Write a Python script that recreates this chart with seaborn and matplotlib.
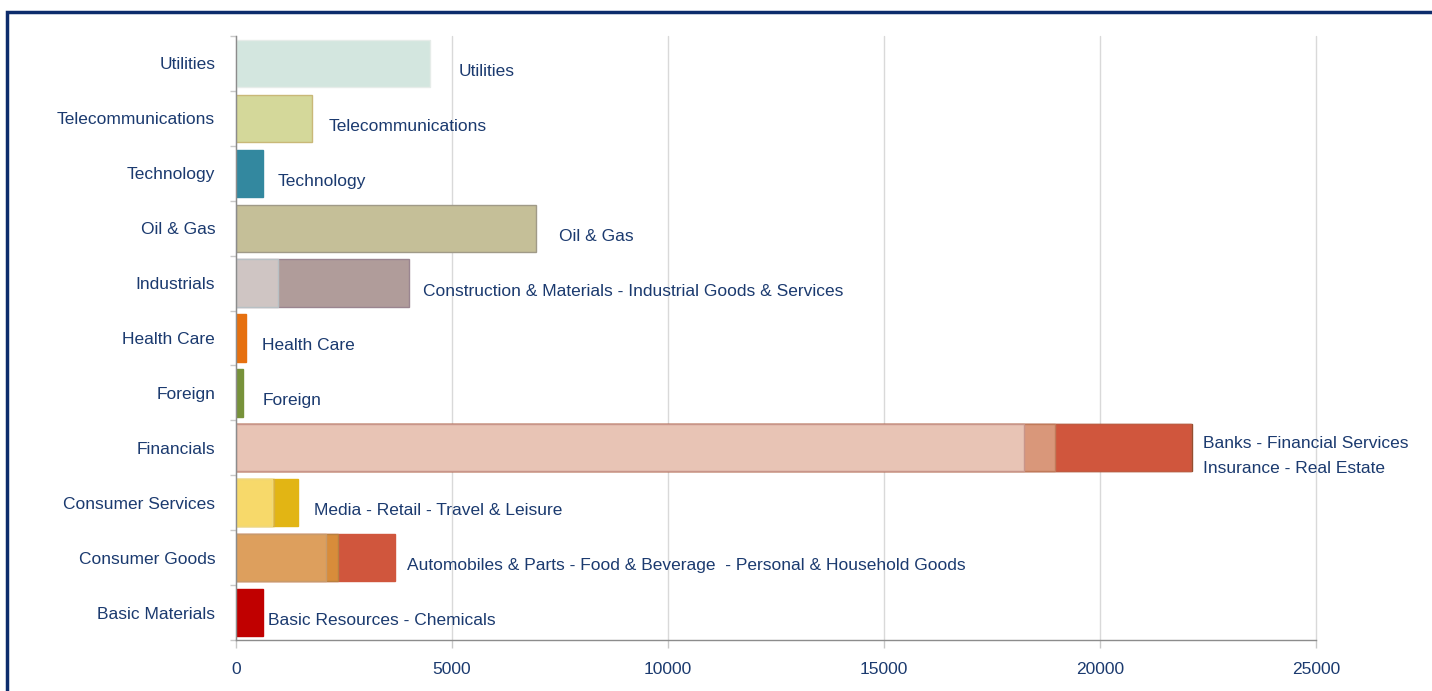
import matplotlib
matplotlib.use("Agg")
import matplotlib.pyplot as plt
import seaborn as sns
import numpy as np
import pandas as pd
from matplotlib.patches import Rectangle
from matplotlib.ticker import MultipleLocator

categories = ["Utilities", "Telecommunications", "Technology", "Oil & Gas", "Industrials",
              "Health Care", "Foreign", "Financials", "Consumer Services", "Consumer Goods",
              "Basic Materials"]

# sub-sector values, stacked left to right within each sector
segments = [
    [4490],
    [1760],
    [625],
    [6940],
    [980, 3025],
    [230],
    [165],
    [18240, 720, 3150, 30],
    [830, 60, 540],
    [2090, 265, 1330],
    [625],
]

bar_labels = [
    "Utilities",
    "Telecommunications",
    "Technology",
    "Oil & Gas",
    "Construction & Materials - Industrial Goods & Services",
    "Health Care",
    "Foreign",
    "Banks - Financial Services\nInsurance - Real Estate",
    "Media - Retail - Travel & Leisure",
    "Automobiles & Parts - Food & Beverage  - Personal & Household Goods",
    "Basic Resources - Chemicals",
]

segment_colors = [
    ["#d3e6df"],
    ["#d4d89a"],
    ["#33889f"],
    ["#c5bf98"],
    ["#cfc5c3", "#b09c9a"],
    ["#e6700f"],
    ["#77923a"],
    ["#e8c4b5", "#d9977a", "#d0563d", "#8b4a2a"],
    ["#f7d96a", "#e6c24a", "#e2b514"],
    ["#dd9f5d", "#d88c3a", "#d0563d"],
    ["#c00000"],
]
edge_colors = [
    ["#e6ece9"],
    ["#c9b878"],
    ["#33889f"],
    ["#a09a88"],
    ["#b8c0c4", "#9a8590"],
    ["#e6700f"],
    ["#77923a"],
    ["#c8958a", "#c07a5a", "#c05a40", "#8b4a2a"],
    ["#f0d878", "#d8b040", "#e2b514"],
    ["#c89a6a", "#b88040", "#d0563d"],
    ["#c00000"],
]
label_offsets_px = [29, 17, 15, 23, 14, 16, 19, 11, 16, 12, 5]

navy = "#1b3a6f"
fsize = 12.5

sns.set_theme(style="white")
plt.rcParams["font.family"] = ["Liberation Sans", "DejaVu Sans"]

fig = plt.figure(figsize=(14.32, 6.91), dpi=100)
ax = fig.add_axes([236 / 1432, 1 - 640 / 691, 1080 / 1432, 604 / 691])

# draw cumulative layers from the outermost segment inwards
n_layers = max(len(s) for s in segments)
for k in reversed(range(n_layers)):
    rows = [(cat, float(np.sum(seg[:k + 1]))) for cat, seg in zip(categories, segments) if len(seg) > k]
    df = pd.DataFrame(rows, columns=["sector", "value"])
    pal = {cat: segment_colors[i][k] for i, cat in enumerate(categories) if len(segments[i]) > k}
    before = len(ax.patches)
    sns.barplot(data=df, x="value", y="sector", hue="sector", order=categories,
                hue_order=list(pal), palette=pal, orient="h", width=0.86, legend=False,
                saturation=1, errorbar=None, linewidth=1, ax=ax)
    for p in ax.patches[before:]:
        idx = int(round(p.get_y() + p.get_height() / 2))
        p.set_edgecolor(edge_colors[idx][k])

ax.set_xlim(0, 25000)
ax.set_ylim(10.5, -0.5)
ax.xaxis.set_major_locator(MultipleLocator(5000))
ax.grid(axis="x", color="#d9d9d9", linewidth=1)
ax.grid(axis="y", visible=False)
ax.set_axisbelow(True)
for gl in ax.get_xgridlines():
    gl.set_clip_on(False)

ax.set_yticks(range(len(categories)))
ax.set_yticklabels(categories)
ax.set_yticks(np.arange(-0.5, len(categories), 1), minor=True)
ax.tick_params(axis="y", which="major", length=0, pad=15, labelsize=fsize, labelcolor=navy)
ax.tick_params(axis="y", which="minor", left=True, length=4.3, width=1, color="#c8c8c8")
ax.tick_params(axis="x", bottom=True, length=6, width=1, color="#c8c8c8", pad=10,
               labelsize=fsize, labelcolor=navy)
ax.set_xlabel("")
ax.set_ylabel("")

for side in ["top", "right"]:
    ax.spines[side].set_visible(False)
for side in ["left", "bottom"]:
    ax.spines[side].set_color("#8c8c8c")
    ax.spines[side].set_linewidth(1)

for i, cat in enumerate(categories):
    total = float(np.sum(segments[i]))
    ax.annotate(bar_labels[i], xy=(total, i), xytext=(label_offsets_px[i], -8),
                textcoords="offset pixels", va="center", ha="left", fontsize=fsize,
                color=navy, linespacing=1.85)

fig.add_artist(Rectangle((7 / 1432, -0.05), 1.1, 1 - 12 / 691 + 0.05, transform=fig.transFigure,
                         fill=False, edgecolor="#0d2c6c", linewidth=2.5))

fig.savefig("out.png", dpi=100)
